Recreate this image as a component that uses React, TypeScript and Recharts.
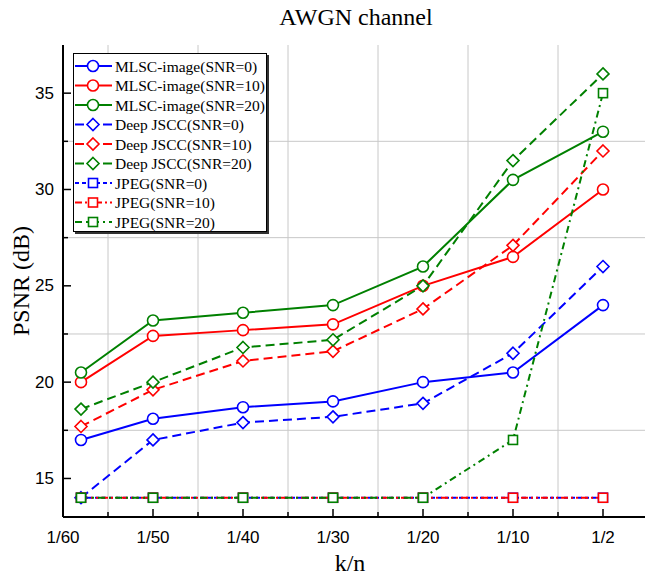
import React from 'react';
import { LineChart, Line, XAxis, YAxis, ReferenceLine } from 'recharts';

// x positions of the measured points (1/60 sits a bit right of the axis origin)
const xPos = [0.2, 1, 2, 3, 4, 5, 6];
const xTickLabels = ['1/60', '1/50', '1/40', '1/30', '1/20', '1/10', '1/2'];

const mlsc0 = [17.0, 18.1, 18.7, 19.0, 20.0, 20.5, 24.0];
const mlsc10 = [20.0, 22.4, 22.7, 23.0, 25.0, 26.5, 30.0];
const mlsc20 = [20.5, 23.2, 23.6, 24.0, 26.0, 30.5, 33.0];
const jscc0 = [14.0, 17.0, 17.9, 18.2, 18.9, 21.5, 26.0];
const jscc10 = [17.7, 19.6, 21.1, 21.6, 23.8, 27.1, 32.0];
const jscc20 = [18.6, 20.0, 21.8, 22.2, 25.0, 31.5, 36.0];
const jpeg0 = [14, 14, 14, 14, 14, 14, 14];
const jpeg10 = [14, 14, 14, 14, 14, 14, 14];
const jpeg20 = [14, 14, 14, 14, 14, 17, 35];

const BLUE = '#0000ff';
const RED = '#ff0000';
const GREEN = '#008000';

type Shape = 'circle' | 'diamond' | 'square';

const series: { key: string; name: string; values: number[]; color: string; dash?: string; shape: Shape }[] = [
  { key: 'mlsc0', name: 'MLSC-image(SNR=0)', values: mlsc0, color: BLUE, shape: 'circle' },
  { key: 'mlsc10', name: 'MLSC-image(SNR=10)', values: mlsc10, color: RED, shape: 'circle' },
  { key: 'mlsc20', name: 'MLSC-image(SNR=20)', values: mlsc20, color: GREEN, shape: 'circle' },
  { key: 'jscc0', name: 'Deep JSCC(SNR=0)', values: jscc0, color: BLUE, dash: '9 5', shape: 'diamond' },
  { key: 'jscc10', name: 'Deep JSCC(SNR=10)', values: jscc10, color: RED, dash: '9 5', shape: 'diamond' },
  { key: 'jscc20', name: 'Deep JSCC(SNR=20)', values: jscc20, color: GREEN, dash: '9 5', shape: 'diamond' },
  { key: 'jpeg0', name: 'JPEG(SNR=0)', values: jpeg0, color: BLUE, dash: '4 3', shape: 'square' },
  { key: 'jpeg10', name: 'JPEG(SNR=10)', values: jpeg10, color: RED, dash: '7 3 2 3 2 3', shape: 'square' },
  { key: 'jpeg20', name: 'JPEG(SNR=20)', values: jpeg20, color: GREEN, dash: '7 4 2 4', shape: 'square' },
];

const data = xPos.map((x, i) => {
  const row: Record<string, number> = { x };
  series.forEach(s => { row[s.key] = s.values[i]; });
  return row;
});

const xTicks = [0, 0.5, 1, 1.5, 2, 2.5, 3, 3.5, 4, 4.5, 5, 5.5, 6];
const yTicks = [15, 17.5, 20, 22.5, 25, 27.5, 30, 32.5, 35];
const xGrid = [0.5, 1.5, 2.5, 3.5, 4.5, 5.5];
const yGrid = [17.5, 22.5, 27.5, 32.5];

const sansFont = '"Liberation Sans", Arial, sans-serif';
const serifFont = '"Liberation Serif", "Times New Roman", serif';

const Marker = ({ cx, cy, shape, color }: { cx: number; cy: number; shape: Shape; color: string }) => {
  if (shape === 'circle') {
    return <circle cx={cx} cy={cy} r={5.5} fill="#fff" stroke={color} strokeWidth={1.6} />;
  }
  if (shape === 'diamond') {
    const d = 6;
    return (
      <polygon
        points={`${cx},${cy - d} ${cx + d},${cy} ${cx},${cy + d} ${cx - d},${cy}`}
        fill="#fff"
        stroke={color}
        strokeWidth={1.6}
      />
    );
  }
  return <rect x={cx - 4.5} y={cy - 4.5} width={9} height={9} fill="#fff" stroke={color} strokeWidth={1.6} />;
};

const majorX = (v: number) => Number.isInteger(v);
const majorY = (v: number) => v % 5 === 0;

const BottomTick = (props: any) => {
  const { x, y, payload } = props;
  const major = majorX(payload.value);
  return (
    <g>
      <line x1={x} x2={x} y1={y} y2={y - (major ? 8 : 5)} stroke="#000" strokeWidth={1.5} />
      {major && (
        <text x={x} y={y + 20} textAnchor="middle" dominantBaseline="central" fontFamily={sansFont} fontSize={17} fill="#000">
          {xTickLabels[payload.value]}
        </text>
      )}
    </g>
  );
};

const TopTick = (props: any) => {
  const { x, y, payload } = props;
  const major = majorX(payload.value);
  return <line x1={x} x2={x} y1={y} y2={y + (major ? 8 : 5)} stroke="#000" strokeWidth={1.5} />;
};

const LeftTick = (props: any) => {
  const { x, y, payload } = props;
  const major = majorY(payload.value);
  return (
    <g>
      <line x1={x} x2={x + (major ? 8 : 5)} y1={y} y2={y} stroke="#000" strokeWidth={1.5} />
      {major && (
        <text x={x - 9} y={y} textAnchor="end" dominantBaseline="central" fontFamily={sansFont} fontSize={17} fill="#000">
          {payload.value}
        </text>
      )}
    </g>
  );
};

const RightTick = (props: any) => {
  const { x, y, payload } = props;
  const major = majorY(payload.value);
  return <line x1={x} x2={x - (major ? 8 : 5)} y1={y} y2={y} stroke="#000" strokeWidth={1.5} />;
};

const LegendBox = () => (
  <div
    style={{
      position: 'absolute',
      left: 73,
      top: 53,
      width: 194,
      height: 179,
      border: '1px solid #000',
      background: '#fff',
      boxShadow: '2px 2px 0 #333',
      boxSizing: 'border-box',
    }}
  >
    <svg width={194} height={179} style={{ display: 'block', position: 'absolute', left: -1, top: -1 }}>
      {series.map((s, i) => {
        const cy = 13 + i * 19.5;
        return (
          <g key={s.key}>
            <line x1={2} x2={39} y1={cy} y2={cy} stroke={s.color} strokeWidth={2} strokeDasharray={s.dash} />
            <Marker cx={20} cy={cy} shape={s.shape} color={s.color} />
            <text x={42} y={cy} dominantBaseline="central" fontFamily={serifFont} fontSize={15.5} fill="#000">
              {s.name}
            </text>
          </g>
        );
      })}
    </svg>
  </div>
);

export default function App() {
  return (
    <div style={{ position: 'absolute', left: 0, top: 0, width: 645, height: 576, overflow: 'hidden', background: '#fff' }}>
      <LineChart width={650} height={576} data={data} margin={{ top: 45, right: 2, bottom: 29, left: 8 }}>
        <XAxis
          dataKey="x"
          type="number"
          domain={[0, 6.5]}
          ticks={xTicks}
          interval={0}
          tickSize={0}
          tickMargin={0}
          tickLine={false}
          tick={<BottomTick />}
          height={30}
          axisLine={{ stroke: '#000', strokeWidth: 2 }}
        />
        <XAxis
          xAxisId="top"
          orientation="top"
          dataKey="x"
          type="number"
          domain={[0, 6.5]}
          ticks={xTicks}
          interval={0}
          tickSize={0}
          tickMargin={0}
          tickLine={false}
          tick={<TopTick />}
          height={0}
          axisLine={{ stroke: '#000', strokeWidth: 2 }}
        />
        <YAxis
          type="number"
          domain={[13, 37.5]}
          ticks={yTicks}
          interval={0}
          tickSize={0}
          tickMargin={0}
          tickLine={false}
          tick={<LeftTick />}
          width={55}
          axisLine={{ stroke: '#000', strokeWidth: 2 }}
        />
        <YAxis
          yAxisId="right"
          orientation="right"
          type="number"
          domain={[13, 37.5]}
          ticks={yTicks}
          interval={0}
          tickSize={0}
          tickMargin={0}
          tickLine={false}
          tick={<RightTick />}
          width={0}
          axisLine={{ stroke: '#000', strokeWidth: 2 }}
        />
        {xGrid.map(v => (
          <ReferenceLine key={`gx${v}`} x={v} stroke="#c8c8c8" strokeWidth={1} />
        ))}
        {yGrid.map(v => (
          <ReferenceLine key={`gy${v}`} y={v} stroke="#c8c8c8" strokeWidth={1} />
        ))}
        {series.map(s => (
          <Line
            key={s.key}
            dataKey={s.key}
            name={s.name}
            type="linear"
            stroke={s.color}
            strokeWidth={2}
            strokeDasharray={s.dash}
            isAnimationActive={false}
            dot={(p: any) => <Marker key={`${s.key}-${p.index}`} cx={p.cx} cy={p.cy} shape={s.shape} color={s.color} />}
            activeDot={false}
          />
        ))}
      </LineChart>
      <svg width={645} height={576} style={{ position: 'absolute', left: 0, top: 0, pointerEvents: 'none' }}>
        <text x={356} y={25} textAnchor="middle" fontFamily={serifFont} fontSize={24} fill="#000">
          AWGN channel
        </text>
        <text
          x={0}
          y={0}
          transform="translate(29, 281) rotate(-90)"
          textAnchor="middle"
          fontFamily={serifFont}
          fontSize={24}
          fill="#000"
        >
          PSNR (dB)
        </text>
        <text x={350} y={571} textAnchor="middle" fontFamily={serifFont} fontSize={24} fill="#000">
          k/n
        </text>
      </svg>
      <LegendBox />
    </div>
  );
}
